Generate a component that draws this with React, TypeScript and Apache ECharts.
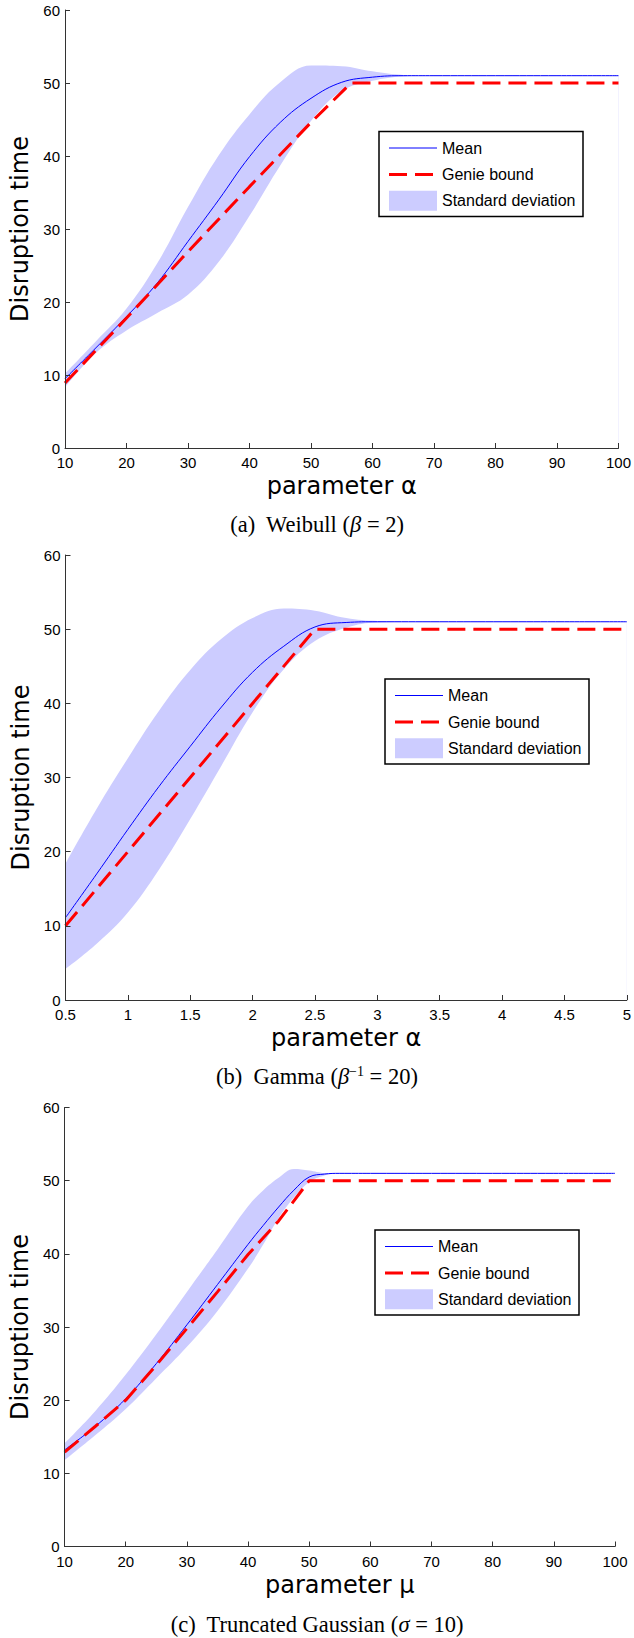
import React, { useEffect, useRef } from "react";
import * as echarts from "echarts";

// ---------- Data ----------
// (a) Weibull (beta = 2)
const weibullX = [10, 15, 20, 25, 30, 35, 40, 45, 50, 55, 60, 65, 70, 80, 90, 100];
const weibullMean = [9.5, 13.7, 18, 22.6, 28.3, 34, 39.9, 44.6, 47.9, 50.1, 50.8, 51, 51, 51, 51, 51];
const weibullUpper = [10.2, 14.6, 19.1, 25.3, 33, 40.1, 45.7, 50.1, 52.4, 52.3, 51.6, 51.1, 51, 51, 51, 51];
const weibullLower = [8.3, 13, 16.1, 18.5, 21, 25.5, 31.8, 38.7, 44.8, 48.9, 50.3, 50.9, 51, 51, 51, 51];
const weibullGenieX = [10, 20, 30, 40, 50, 56.5, 100];
const weibullGenie = [8.9, 17.8, 26.9, 35.8, 44.6, 50, 50];

// (b) Gamma (beta^-1 = 20)
const gammaX = [0.5, 0.75, 1, 1.25, 1.5, 1.75, 2, 2.25, 2.5, 2.75, 3, 3.5, 4, 4.5, 5];
const gammaMean = [11.1, 17, 23, 28.8, 34.2, 39.5, 44.2, 47.7, 50.3, 50.9, 51, 51, 51, 51, 51];
const gammaUpper = [18.4, 25.8, 32.6, 39, 44.5, 48.7, 51.5, 52.8, 52.5, 51.5, 51.1, 51, 51, 51, 51];
const gammaLower = [4.2, 7.6, 11.8, 17.6, 24.4, 31.6, 38.8, 44.6, 48.4, 50.2, 50.9, 51, 51, 51, 51];
const gammaGenieX = [0.5, 2.5, 5];
const gammaGenie = [10, 50, 50];

// (c) Truncated Gaussian (sigma = 10)
const gaussX = [10, 15, 20, 25, 30, 35, 40, 42.5, 45, 47.5, 50, 52.5, 55, 60, 70, 80, 90, 100];
const gaussMean = [13.2, 16.4, 20.2, 25, 30.3, 35.8, 41.3, 43.9, 46.4, 48.7, 50.5, 50.9, 51, 51, 51, 51, 51, 51];
const gaussUpper = [14.1, 18.5, 23.5, 29, 34.8, 40.6, 46.5, 48.7, 50.4, 51.6, 51.4, 51.05, 51, 51, 51, 51, 51, 51];
const gaussLower = [11.8, 15.2, 18.8, 23, 27.3, 32.2, 38, 41.3, 44.9, 47.7, 49.8, 50.7, 51, 51, 51, 51, 51, 51];
const gaussGenieX = [10, 15, 20, 25, 30, 35, 40, 45, 50, 100];
const gaussGenie = [12.9, 16.4, 20, 24.8, 29.8, 34.8, 39.9, 44.5, 50, 50];

// Axis settings / labels
const yTicks = { min: 0, max: 60, interval: 10 };
const xRanges = [
  { min: 10, max: 100, interval: 10 },
  { min: 0.5, max: 5, interval: 0.5 },
  { min: 10, max: 100, interval: 10 },
];
const xTitles = ["parameter α", "parameter α", "parameter μ"];
const yTitle = "Disruption time";
const legendLabels = ["Mean", "Genie bound", "Standard deviation"];
const captions = [
  "{n|(a)  Weibull (}{i|β}{n| = 2)}",
  "{n|(b)  Gamma (}{i|β}{s|−1}{n| = 20)}",
  "{n|(c)  Truncated Gaussian (}{i|σ}{n| = 10)}",
];

const panelsData = [
  { x: weibullX, mean: weibullMean, upper: weibullUpper, lower: weibullLower, gx: weibullGenieX, g: weibullGenie },
  { x: gammaX, mean: gammaMean, upper: gammaUpper, lower: gammaLower, gx: gammaGenieX, g: gammaGenie },
  { x: gaussX, mean: gaussMean, upper: gaussUpper, lower: gaussLower, gx: gaussGenieX, g: gaussGenie },
];

// Layout (pixels)
const grids = [
  { left: 65, top: 10, width: 555, height: 438 },
  { left: 65.5, top: 555, width: 564.5, height: 445 },
  { left: 61, top: 1107.5, width: 554, height: 439 },
];
const legendBoxes = [
  { x: 379, y: 131.5 },
  { x: 385, y: 679 },
  { x: 375, y: 1230 },
];
const captionY = [524, 1076, 1624];

const BLUE = "#0000ff";
const RED = "#ff0000";
const BAND = "#ccccff";
const AXIS = "#333333";
const TITLE_SIZE = 24;

function buildOption() {
  const series: any[] = [];
  panelsData.forEach((p, i) => {
    // band: upper edge filled with the band colour ...
    series.push({
      type: "line",
      name: "Standard deviation",
      xAxisIndex: i,
      yAxisIndex: i,
      data: p.x.map((v, k) => [v, p.upper[k]]),
      symbol: "none",
      smooth: 0.4,
      lineStyle: { opacity: 0, width: 0 },
      itemStyle: { color: BAND },
      areaStyle: { color: BAND, opacity: 1 },
      silent: true,
      z: 1,
    });
    // ... and the area under the lower edge is restored to the white background
    series.push({
      type: "line",
      name: "band lower",
      xAxisIndex: i,
      yAxisIndex: i,
      data: p.x.map((v, k) => [v, p.lower[k]]),
      symbol: "none",
      smooth: 0.4,
      lineStyle: { opacity: 0, width: 0 },
      itemStyle: { color: "#ffffff" },
      areaStyle: { color: "#ffffff", opacity: 1 },
      silent: true,
      z: 2,
    });
    series.push({
      type: "line",
      name: "Mean",
      xAxisIndex: i,
      yAxisIndex: i,
      data: p.x.map((v, k) => [v, p.mean[k]]),
      symbol: "none",
      smooth: 0.4,
      lineStyle: { color: BLUE, width: 1 },
      itemStyle: { color: BLUE },
      silent: true,
      z: 3,
    });
    series.push({
      type: "line",
      name: "Genie bound",
      xAxisIndex: i,
      yAxisIndex: i,
      data: p.gx.map((v, k) => [v, p.g[k]]),
      symbol: "none",
      smooth: false,
      lineStyle: { color: RED, width: 3, type: [18, 8] },
      itemStyle: { color: RED },
      silent: true,
      z: 4,
    });
  });

  const xAxis = xRanges.map((r, i) => ({
    type: "value",
    gridIndex: i,
    z: 6,
    min: r.min,
    max: r.max,
    interval: r.interval,
    name: xTitles[i],
    nameLocation: "middle",
    nameGap: 26,
    nameTextStyle: { fontFamily: "DejaVu Sans", fontSize: TITLE_SIZE, color: "#000" },
    axisLine: { show: true, onZero: false, lineStyle: { color: AXIS, width: 1 } },
    axisTick: { show: true, inside: true, length: 5, lineStyle: { color: AXIS, width: 1 } },
    axisLabel: {
      show: true,
      margin: 7,
      fontFamily: "Liberation Sans",
      fontSize: 15,
      color: "#000",
      showMinLabel: true,
      showMaxLabel: true,
      hideOverlap: false,
    },
    splitLine: { show: false },
  }));

  const yAxis = grids.map((_, i) => ({
    type: "value",
    gridIndex: i,
    z: 6,
    min: yTicks.min,
    max: yTicks.max,
    interval: yTicks.interval,
    name: yTitle,
    nameLocation: "middle",
    nameGap: 32.5,
    nameTextStyle: { fontFamily: "DejaVu Sans", fontSize: TITLE_SIZE, color: "#000" },
    axisLine: { show: true, onZero: false, lineStyle: { color: AXIS, width: 1 } },
    axisTick: { show: true, inside: true, length: 5, lineStyle: { color: AXIS, width: 1 } },
    axisLabel: {
      show: true,
      margin: 5,
      fontFamily: "Liberation Sans",
      fontSize: 15,
      color: "#000",
      showMinLabel: true,
      showMaxLabel: true,
    },
    splitLine: { show: false },
  }));

  const graphic: any[] = [];
  legendBoxes.forEach((b) => {
    const W = 204;
    const H = 85;
    const rows = [b.y + 16.5, b.y + 43, b.y + 69.3];
    graphic.push(
      {
        type: "rect",
        z: 100,
        shape: { x: b.x, y: b.y, width: W, height: H },
        style: { fill: "#fff", stroke: "#000", lineWidth: 1.5 },
      },
      {
        type: "line",
        z: 101,
        shape: { x1: b.x + 10, y1: rows[0], x2: b.x + 58, y2: rows[0] },
        style: { stroke: BLUE, lineWidth: 1 },
      },
      {
        type: "line",
        z: 101,
        shape: { x1: b.x + 10, y1: rows[1], x2: b.x + 54, y2: rows[1] },
        style: { stroke: RED, lineWidth: 3, lineDash: [18, 8] },
      },
      {
        type: "rect",
        z: 101,
        shape: { x: b.x + 10, y: rows[2] - 10, width: 48, height: 20 },
        style: { fill: BAND },
      },
      ...legendLabels.map((t, k) => ({
        type: "text",
        z: 101,
        x: b.x + 63,
        y: rows[k],
        style: {
          text: t,
          fontFamily: "Liberation Sans",
          fontSize: 16,
          fill: "#000",
          align: "left",
          verticalAlign: "middle",
        },
      }))
    );
  });

  captions.forEach((c, i) => {
    graphic.push({
      type: "text",
      x: 317,
      y: captionY[i],
      z: 100,
      style: {
        text: c,
        align: "center",
        verticalAlign: "middle",
        rich: {
          n: { fontFamily: "Liberation Serif", fontSize: 22.5, fill: "#000" },
          i: { fontFamily: "Liberation Serif", fontSize: 22.5, fontStyle: "italic", fill: "#000" },
          s: { fontFamily: "Liberation Serif", fontSize: 14, fill: "#000", verticalAlign: "top" },
        },
      },
    });
  });

  return {
    animation: false,
    backgroundColor: "#ffffff",
    grid: grids.map((g) => ({ ...g, containLabel: false })),
    xAxis,
    yAxis,
    series,
    graphic,
  };
}

export default function App() {
  const ref = useRef<HTMLDivElement>(null);
  useEffect(() => {
    if (!ref.current) return;
    const chart = echarts.init(ref.current, null, { renderer: "svg" });
    chart.setOption(buildOption() as any);
    return () => {
      chart.dispose();
    };
  }, []);
  return (
    <div
      ref={ref}
      style={{ position: "absolute", left: 0, top: 0, width: 634, height: 1638, background: "#fff" }}
    />
  );
}
